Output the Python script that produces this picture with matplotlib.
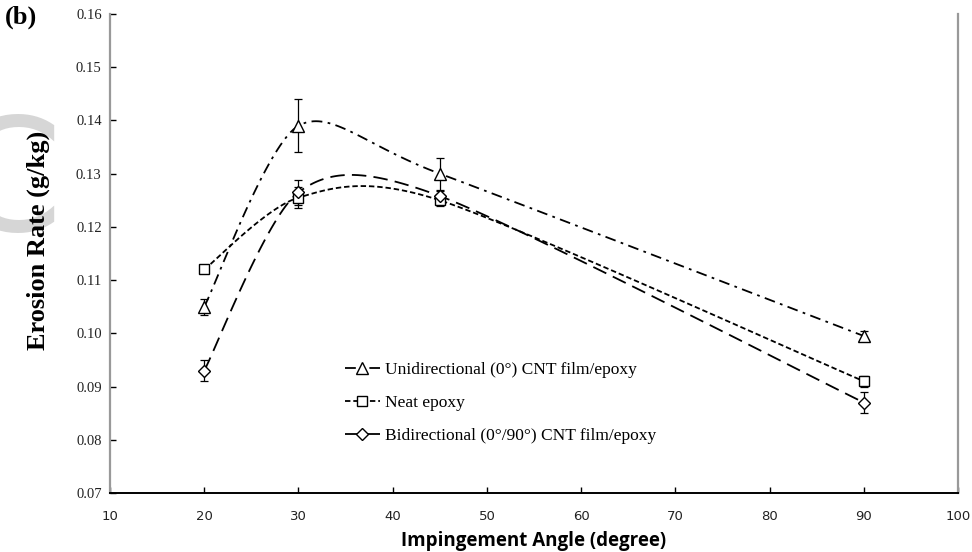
import numpy as np
import matplotlib
matplotlib.use("Agg")
import matplotlib.pyplot as plt

angles = [20, 30, 45, 90]
uni_rate = [0.105, 0.139, 0.130, 0.0995]
uni_err = [0.0015, 0.005, 0.003, 0.001]
neat_rate = [0.112, 0.1255, 0.125, 0.091]
neat_err = [0.0005, 0.002, 0.001, 0.001]
bi_rate = [0.093, 0.1265, 0.1258, 0.087]
bi_err = [0.002, 0.0023, 0.001, 0.002]

labels = ["Unidirectional (0°) CNT film/epoxy", "Neat epoxy", "Bidirectional (0°/90°) CNT film/epoxy"]
x_ticks = [10, 20, 30, 40, 50, 60, 70, 80, 90, 100]
y_ticks = [0.07, 0.08, 0.09, 0.10, 0.11, 0.12, 0.13, 0.14, 0.15, 0.16]


def smooth(xs, ys, n=40, k=7.5):
    # excel-style smoothed line: cubic bezier, catmull-rom like control points
    p = np.column_stack([xs, ys]).astype(float)
    p_ext = np.vstack([p[0], p, p[-1]])
    t = np.linspace(0, 1, n)[:, None]
    out = []
    for i in range(len(p) - 1):
        a = p_ext[i + 1]
        b = p_ext[i + 2]
        c1 = a + (p_ext[i + 2] - p_ext[i]) / k
        c2 = b - (p_ext[i + 3] - p_ext[i + 1]) / k
        seg = (1 - t) ** 3 * a + 3 * (1 - t) ** 2 * t * c1 + 3 * (1 - t) * t ** 2 * c2 + t ** 3 * b
        out.append(seg)
    seg = np.vstack(out)
    return seg[:, 0], seg[:, 1]


fig = plt.figure(figsize=(9.72, 5.52), dpi=100)
ax = fig.add_axes([0.1132, 0.1069, 0.8724, 0.8677])

series = [
    (uni_rate, uni_err, "^", 8.5, (0, (6, 3, 1.5, 3))),
    (neat_rate, neat_err, "s", 7, (0, (3, 1.6))),
    (bi_rate, bi_err, "D", 6.5, (0, (8, 4))),
]

handles = []
for (rate, err, mk, ms, ls), lab in zip(series, labels):
    sx, sy = smooth(angles, rate)
    ax.plot(sx, sy, color="black", lw=1.3, linestyle=ls, zorder=2)
    ax.errorbar(angles, rate, yerr=err, fmt="none", ecolor="black", elinewidth=0.9,
                capsize=3, capthick=0.9, zorder=3)
    ax.plot(angles, rate, linestyle="none", marker=mk, ms=ms, mfc="white",
            mec="black", mew=1.0, zorder=4)
    h, = ax.plot([], [], color="black", lw=1.3, linestyle=ls, marker=mk, ms=ms,
                 mfc="white", mec="black", mew=1.0)
    handles.append(h)

ax.set_xlim(10, 100)
ax.set_ylim(0.07, 0.16)
ax.set_xticks(x_ticks)
ax.set_yticks(y_ticks)
ax.set_xticklabels([str(v) for v in x_ticks], fontsize=9.5, color="#222222",
                   family="DejaVu Sans")
ax.set_yticklabels(["%.2f" % v for v in y_ticks], fontsize=10.5, color="#222222",
                   family="Liberation Serif")
ax.tick_params(axis="both", direction="in", length=4, width=1, color="black")
ax.tick_params(axis="x", pad=12)
ax.tick_params(axis="y", pad=6)

ax.spines["top"].set_visible(False)
ax.spines["left"].set_color("#999999")
ax.spines["left"].set_linewidth(1.6)
ax.spines["right"].set_color("#999999")
ax.spines["right"].set_linewidth(1.6)
ax.spines["bottom"].set_color("black")
ax.spines["bottom"].set_linewidth(1.4)

ax.set_xlabel("Impingement Angle (degree)", fontsize=13.5, fontweight="bold",
              family="Open Sans", labelpad=6)
ax.set_ylabel("Erosion Rate (g/kg)", fontsize=19, fontweight="bold",
              family="Liberation Serif")
ax.yaxis.set_label_coords(-0.071, 0.528)

ax.legend(handles, labels, loc="upper left", bbox_to_anchor=(0.339, 0.372),
          bbox_transform=fig.transFigure, frameon=False, handlelength=2.0,
          handletextpad=0.3, labelspacing=0.95,
          prop={"family": "Liberation Serif", "size": 12.5})

fig.text(0.005, 0.99, "(b)", fontsize=19, fontweight="bold", family="Liberation Serif",
         va="top", ha="left")
fig.text(-0.048, 0.66, "C", fontsize=112, color="#d6d6d6", family="DejaVu Sans",
         va="center", ha="left", zorder=-1)

fig.savefig("out.png", dpi=100)
